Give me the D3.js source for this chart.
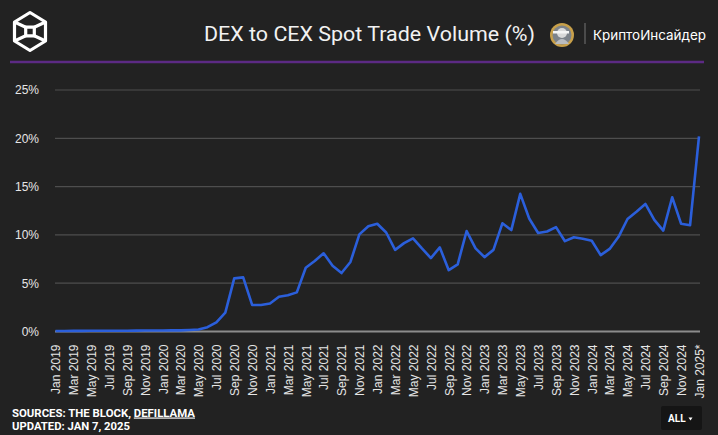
<!DOCTYPE html>
<html>
<head>
<meta charset="utf-8">
<script src="https://cdn.jsdelivr.net/npm/d3@7/dist/d3.min.js"></script>
<style>
html,body{margin:0;padding:0;background:#222222;}
svg{display:block;}
</style>
</head>
<body>
<svg id="chart" width="718" height="435"></svg>
<script>
const months = ["Jan 2019","Feb 2019","Mar 2019","Apr 2019","May 2019","Jun 2019","Jul 2019","Aug 2019","Sep 2019","Oct 2019","Nov 2019","Dec 2019",
"Jan 2020","Feb 2020","Mar 2020","Apr 2020","May 2020","Jun 2020","Jul 2020","Aug 2020","Sep 2020","Oct 2020","Nov 2020","Dec 2020",
"Jan 2021","Feb 2021","Mar 2021","Apr 2021","May 2021","Jun 2021","Jul 2021","Aug 2021","Sep 2021","Oct 2021","Nov 2021","Dec 2021",
"Jan 2022","Feb 2022","Mar 2022","Apr 2022","May 2022","Jun 2022","Jul 2022","Aug 2022","Sep 2022","Oct 2022","Nov 2022","Dec 2022",
"Jan 2023","Feb 2023","Mar 2023","Apr 2023","May 2023","Jun 2023","Jul 2023","Aug 2023","Sep 2023","Oct 2023","Nov 2023","Dec 2023",
"Jan 2024","Feb 2024","Mar 2024","Apr 2024","May 2024","Jun 2024","Jul 2024","Aug 2024","Sep 2024","Oct 2024","Nov 2024","Dec 2024",
"Jan 2025*"];
const dexShare = [0.05,0.05,0.06,0.06,0.07,0.07,0.07,0.08,0.08,0.09,0.1,0.1,
0.1,0.12,0.12,0.15,0.2,0.45,0.95,1.95,5.5,5.6,2.75,2.75,
2.9,3.6,3.75,4.05,6.6,7.3,8.1,6.8,6.05,7.2,10.05,10.9,
11.15,10.25,8.45,9.15,9.65,8.6,7.6,8.7,6.35,6.95,10.4,8.6,
7.7,8.45,11.2,10.5,14.25,11.7,10.2,10.35,10.8,9.35,9.75,9.6,
9.4,7.9,8.55,9.8,11.65,12.4,13.2,11.55,10.45,13.9,11.15,11.0,
20.2];
const yTicks = [0,5,10,15,20,25];
const xTickLabels = months.filter((m,i)=>i%2===0);
const title = "DEX to CEX Spot Trade Volume (%)";
const brand = "КриптоИнсайдер";
const sourceLine = "SOURCES: THE BLOCK, ";
const sourceLink = "DEFILLAMA";
const updatedLine = "UPDATED: JAN 7, 2025";

const svg = d3.select("#chart");
svg.append("rect").attr("width",718).attr("height",435).attr("fill","#222222");

// Header logo
const logo = svg.append("g").attr("fill","none").attr("stroke","#ffffff").attr("stroke-width",3.2).attr("stroke-linejoin","round");
const cx=30, cy=31.5, hw=15.5, hh=19;
const hex = [[cx,cy-hh],[cx+hw,cy-hh/2],[cx+hw,cy+hh/2],[cx,cy+hh],[cx-hw,cy+hh/2],[cx-hw,cy-hh/2]];
logo.append("path").attr("d", d3.line()(hex)+"Z");
const s=4.3;
logo.append("rect").attr("x",cx-s).attr("y",cy-s).attr("width",2*s).attr("height",2*s);
logo.append("path").attr("d",`M${cx-s},${cy-s}L${cx-hw},${cy-hh/2}M${cx+s},${cy-s}L${cx+hw},${cy-hh/2}M${cx-s},${cy+s}L${cx-hw},${cy+hh/2}M${cx+s},${cy+s}L${cx+hw},${cy+hh/2}`);

// Title
svg.append("text").attr("x",204).attr("y",40.5)
  .attr("font-family","Roboto, 'Noto Sans', sans-serif").attr("font-size",21).attr("fill","#f2f2f2")
  .attr("textLength",331).attr("lengthAdjust","spacingAndGlyphs")
  .text(title);

// Avatar
const av = svg.append("g").attr("transform","translate(562,35)");
av.append("circle").attr("r",12).attr("fill","#c8a04a");
av.append("circle").attr("r",9.5).attr("fill","#7d838a");
av.append("circle").attr("cy",-2).attr("r",5).attr("fill","#d9d9d9");
av.append("path").attr("d","M-7,9 Q0,-1 7,9 Z").attr("fill","#b9bcc0");
av.append("rect").attr("x",-9).attr("y",-4).attr("width",16).attr("height",2.5).attr("fill","#f5f5f5");
svg.append("line").attr("x1",585).attr("x2",585).attr("y1",23).attr("y2",44).attr("stroke","#5a5a5a").attr("stroke-width",1.5);
svg.append("text").attr("x",593).attr("y",39.5)
  .attr("font-family","Inter, Roboto, sans-serif").attr("font-size",13.5).attr("fill","#ffffff")
  .attr("textLength",113).attr("lengthAdjust","spacingAndGlyphs")
  .text(brand);

// Purple rule
svg.append("line").attr("x1",10).attr("x2",704).attr("y1",62).attr("y2",62).attr("stroke","#5c2a84").attr("stroke-width",2.5);

// Scales
const x = d3.scalePoint().domain(months).range([55.5,699]);
const y = d3.scaleLinear().domain([0,25]).range([331.5,90]);

// Grid
const grid = svg.append("g");
grid.selectAll("line").data(yTicks.filter(d=>d>0)).join("line")
  .attr("x1",55).attr("x2",700).attr("y1",d=>y(d)).attr("y2",d=>y(d))
  .attr("stroke","#4e4e4e").attr("stroke-width",1.2);
svg.append("line").attr("x1",55).attr("x2",700).attr("y1",y(0)).attr("y2",y(0)).attr("stroke","#8c8c8c").attr("stroke-width",2.2);

// Y axis labels
const yAxis = d3.axisLeft(y).tickValues(yTicks).tickFormat(d=>d+"%").tickSize(0).tickPadding(0);
const yg = svg.append("g").attr("transform","translate(39,0)").call(yAxis);
yg.select(".domain").remove();
yg.selectAll("text").attr("font-family","'Liberation Sans', Arial, sans-serif").attr("font-size",12).attr("fill","#e6e6e6");

// X axis labels
const xAxis = d3.axisBottom(x).tickValues(xTickLabels).tickSize(0).tickPadding(0);
const xg = svg.append("g").attr("transform","translate(0,344.5)").call(xAxis);
xg.select(".domain").remove();
xg.selectAll("text")
  .attr("font-family","'Liberation Sans', Arial, sans-serif").attr("font-size",12).attr("fill","#e6e6e6")
  .attr("text-anchor","end").attr("transform","rotate(-90)")
  .attr("x",0).attr("y",0).attr("dx",0).attr("dy","0.36em");

// Line
const line = d3.line().x((d,i)=>x(months[i])).y(d=>y(d));
svg.append("path").datum(dexShare).attr("d",line).attr("fill","none")
  .attr("stroke","#2b5fdb").attr("stroke-width",2.6).attr("stroke-linejoin","round");

// Footer
const ft = svg.append("g").attr("font-family","Roboto, 'Liberation Sans', sans-serif").attr("font-weight","bold").attr("font-size",11.5).attr("fill","#ffffff");
const t1 = ft.append("text").attr("x",12).attr("y",416.5);
t1.append("tspan").text(sourceLine);
t1.append("tspan").attr("text-decoration","underline").text(sourceLink);
t1.attr("textLength",183).attr("lengthAdjust","spacingAndGlyphs");
ft.append("text").attr("x",12).attr("y",429.5).attr("textLength",118).attr("lengthAdjust","spacingAndGlyphs").text(updatedLine);

// ALL button
svg.append("rect").attr("x",661).attr("y",406).attr("width",41).attr("height",24).attr("rx",2).attr("fill","#151515");
svg.append("text").attr("x",668).attr("y",422).attr("font-family","Roboto, sans-serif").attr("font-weight","bold")
  .attr("font-size",10).attr("fill","#ffffff").text("ALL");
svg.append("path").attr("d","M688.5,417.5L692.5,417.5L690.5,420.5Z").attr("fill","#ffffff");
</script>
</body>
</html>
